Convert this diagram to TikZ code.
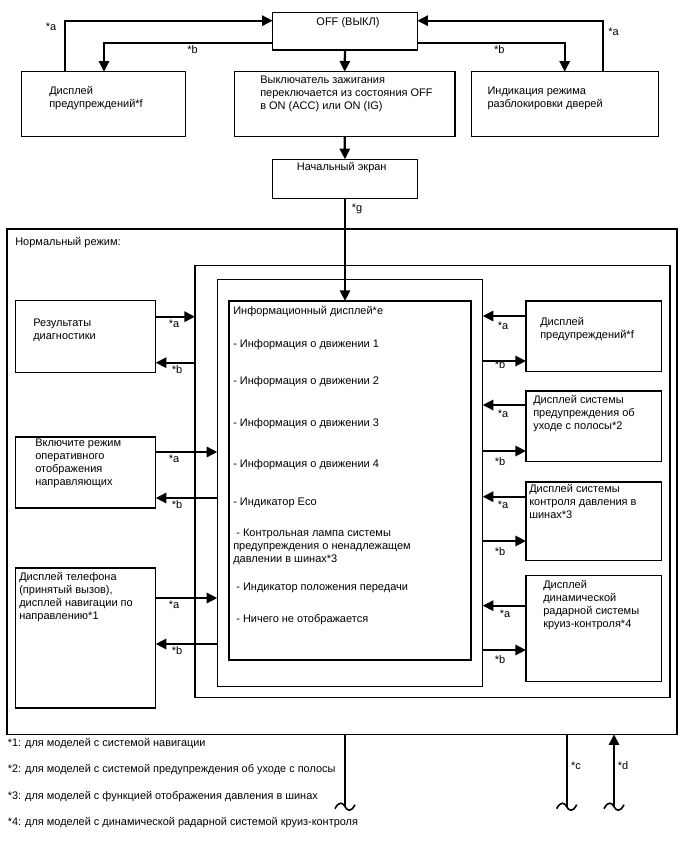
\documentclass[tikz,border=0pt]{standalone}
\usepackage{fontspec}
\setmainfont{Liberation Sans}
\usetikzlibrary{arrows.meta,calc}
\newcommand{\bx}[6][]{\node[box,#1,anchor=north west,minimum width={(#5-#3)*0.75pt},minimum height={(#6-#4)*0.75pt}] (#2) at (#3,#4) {};}
\begin{document}
\begin{tikzpicture}[x=0.75pt,y=-0.75pt,
 box/.style={draw,line width=0.9pt,inner sep=0,outer sep=0,rectangle},
 arr/.style={line width=1.7pt,-{Triangle[length=8pt,width=7.7pt]}},
 txt/.style={anchor=base west,inner sep=0,align=left,font=\fontsize{8.25}{9.75}\selectfont},
 nl/.style={yshift={-(#1-1)*9.75pt}},
 lbl/.style={inner sep=0,font=\fontsize{8.25}{9.75}\selectfont},
 foot/.style={anchor=base west,inner sep=0,font=\fontsize{8.2}{9.75}\selectfont},
 wire/.style={line width=1.5pt},
 tilde/.style={line width=1.2pt}]
\useasboundingbox[fill=white] (0,0) rectangle (688,852);

% boxes
\bx{off}{272.7}{12.3}{417.3}{50}
\bx{lwarn}{21.7}{71.7}{185.7}{136.7}
\bx{ign}{234.3}{71.7}{455}{136.7}
\bx{door}{471.7}{71.7}{658.3}{136.7}
\bx{start}{272.7}{159.3}{417.3}{198.3}
\bx[line width=1.2pt]{normal}{6.7}{229.3}{677}{734.3}
\bx{b2}{195}{265.7}{670}{697.3}
\bx{b3}{217.3}{279.7}{482.7}{686.7}
\bx{info}{229}{301}{471}{660}
\bx{diag}{15.7}{300.7}{155.7}{372.3}
\bx{guide}{15.7}{437}{155.7}{508}
\bx{phone}{15.7}{568}{155.7}{708}
\bx{rwarn}{526}{301}{661.7}{371.7}
\bx{lane}{526}{391}{661.7}{461.7}
\bx{tire}{526}{482}{661.7}{560.7}
\bx{acc}{526}{575.7}{661.7}{681.7}

% texts
\node[txt,anchor=base] (toff) at (348,25.2) {OFF (ВЫКЛ)};
\node[txt,nl=2] (tlwarn) at (49,94.2) {Дисплей\\предупреждений*f};
\node[txt,nl=3] (tign) at (260,83.5) {Выключатель зажигания\\переключается из состояния OFF\\в ON (ACC) или ON (IG)};
\node[txt,nl=2] (tdoor) at (487.3,94.5) {Индикация режима\\разблокировки дверей};
\node[txt,anchor=base] (tstart) at (341.7,170.2) {Начальный экран};
\node[txt] (tnormal) at (15,245.2) {Нормальный режим:};
\node[txt] (tinfo0) at (233,314.5) {Информационный дисплей*e};
\node[txt] (tinfo1) at (233,347.5) {- Информация о движении 1};
\node[txt] (tinfo2) at (233,384.5) {- Информация о движении 2};
\node[txt] (tinfo3) at (233,426.5) {- Информация о движении 3};
\node[txt] (tinfo4) at (233,467.5) {- Информация о движении 4};
\node[txt] (tinfo5) at (233,505.5) {- Индикатор Eco};
\node[txt,nl=3] (tinfo6) at (233,536.5) {\ - Контрольная лампа системы\\предупреждения о ненадлежащем\\давлении в шинах*3};
\node[txt] (tinfo7) at (233,590.5) {\ - Индикатор положения передачи};
\node[txt] (tinfo8) at (233,622.5) {\ - Ничего не отображается};
\node[txt,nl=2] (tdiag) at (33,326.8) {Результаты\\диагностики};
\node[txt,nl=4] (tguide) at (35,446.8) {Включите режим\\оперативного\\отображения\\направляющих};
\node[txt,nl=4] (tphone) at (19,580.2) {Дисплей телефона\\(принятый вызов),\\дисплей навигации по\\направлению*1};
\node[txt,nl=2] (trwarn) at (540,325.2) {Дисплей\\предупреждений*f};
\node[txt,nl=3] (tlane) at (533,403.5) {Дисплей системы\\предупреждения об\\уходе с полосы*2};
\node[txt,nl=3] (ttire) at (529,492.8) {Дисплей системы\\контроля давления в\\шинах*3};
\node[txt,nl=4] (tacc) at (543,588.5) {Дисплей\\динамической\\радарной системы\\круиз-контроля*4};
\node[foot] (f1) at (7.5,746.5) {*1: для моделей с системой навигации};
\node[foot] (f2) at (7.5,772.5) {*2: для моделей с системой предупреждения об уходе с полосы};
\node[foot] (f3) at (7.5,799.5) {*3: для моделей с функцией отображения давления в шинах};
\node[foot] (f4) at (7.5,825.5) {*4: для моделей с динамической радарной системой круиз-контроля};

% top connectors
\draw[arr] (off.south) -- (ign.north);
\draw[arr] (ign.south) -- (start.north);
\draw[arr] (start.south) -- (start.south |- info.north);
\draw[arr] ($(lwarn.north west)+(43.3,0)$) |- ($(off.north west)+(0,8.4)$);
\draw[arr] ($(off.north west)+(0,30.4)$) -| ($(lwarn.north west)+(82.3,0)$);
\draw[arr] ($(off.north east)+(0,30.4)$) -| ($(door.north west)+(93,0)$);
\draw[arr] ($(door.north west)+(131.3,0)$) |- ($(off.north east)+(0,8.4)$);
\node[lbl] (la1) at (51,26.7) {*a};
\node[lbl] (lb1) at (192.5,50) {*b};
\node[lbl] (lb2) at (499.3,50) {*b};
\node[lbl] (la2) at (613.5,31.7) {*a};
\node[lbl] (lg) at (357,209) {*g};

% left connectors
\coordinate (d1) at ($(diag.north east)+(0,16)$);
\coordinate (d2) at ($(diag.north east)+(0,62)$);
\coordinate (g1) at ($(guide.north east)+(0,15)$);
\coordinate (g2) at ($(guide.north east)+(0,61)$);
\coordinate (p1) at ($(phone.north east)+(0,30)$);
\coordinate (p2) at ($(phone.north east)+(0,76)$);
\draw[arr] (d1) -- (d1 -| b2.west);
\draw[arr] (d2 -| b2.west) -- (d2);
\draw[arr] (g1) -- (g1 -| b3.west);
\draw[arr] (g2 -| b3.west) -- (g2);
\draw[arr] (p1) -- (p1 -| b3.west);
\draw[arr] (p2 -| b3.west) -- (p2);
\node[lbl] at (174,324) {*a};
\node[lbl] at (177,370) {*b};
\node[lbl] at (174,458.3) {*a};
\node[lbl] at (177,505) {*b};
\node[lbl] at (174,605) {*a};
\node[lbl] at (177,650.7) {*b};

% right connectors
\coordinate (r1) at ($(rwarn.north west)+(0,15)$);
\coordinate (r2) at ($(rwarn.north west)+(0,60)$);
\coordinate (l1) at ($(lane.north west)+(0,14)$);
\coordinate (l2) at ($(lane.north west)+(0,60)$);
\coordinate (t1) at ($(tire.north west)+(0,14.7)$);
\coordinate (t2) at ($(tire.north west)+(0,59)$);
\coordinate (c1) at ($(acc.north west)+(0,30)$);
\coordinate (c2) at ($(acc.north west)+(0,74.3)$);
\draw[arr] (r1) -- (r1 -| b3.east);
\draw[arr] (r2 -| b3.east) -- (r2);
\draw[arr] (l1) -- (l1 -| b3.east);
\draw[arr] (l2 -| b3.east) -- (l2);
\draw[arr] (t1) -- (t1 -| b3.east);
\draw[arr] (t2 -| b3.east) -- (t2);
\draw[arr] (c1) -- (c1 -| b3.east);
\draw[arr] (c2 -| b3.east) -- (c2);
\node[lbl] at (503,325.7) {*a};
\node[lbl] at (500,365) {*b};
\node[lbl] at (503,413.3) {*a};
\node[lbl] at (500,461.7) {*b};
\node[lbl] at (503,504.3) {*a};
\node[lbl] at (500,551.7) {*b};
\node[lbl] at (505,613.3) {*a};
\node[lbl] at (500,660) {*b};

% bottom
\coordinate (e1) at (345,806.7);
\coordinate (e2) at (566.7,806.7);
\coordinate (e3) at (614,806.7);
\draw[wire] (e1 |- normal.south) -- (e1);
\draw[wire] (e2 |- normal.south) -- (e2);
\draw[arr,line width=1.5pt] (e3) -- (e3 |- normal.south);
\foreach \e in {e1,e2,e3}
  \draw[tilde,shift={(\e)}] (-10,2) .. controls (-6,-6) and (-2,-4) .. (0,0) .. controls (2,4) and (6,6) .. (10,-2);
\node[lbl] (lc) at (576,766) {*c};
\node[lbl] (ld) at (623,766) {*d};
\end{tikzpicture}
\end{document}
